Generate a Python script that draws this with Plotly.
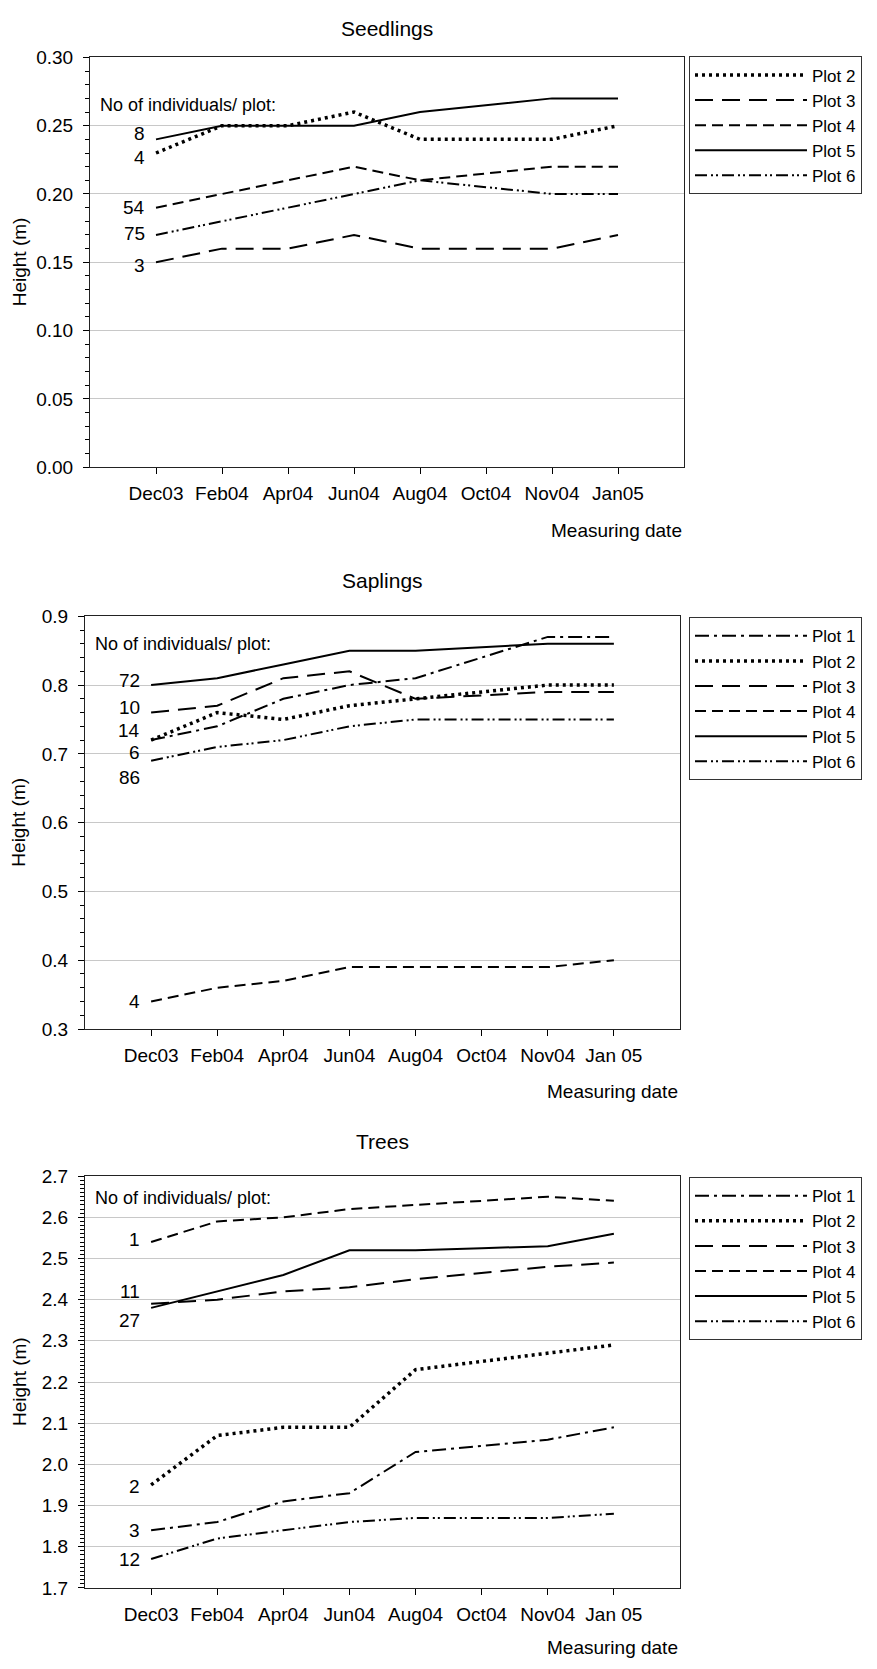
import plotly.graph_objects as go

W, H = 877, 1669

# ---------------- data ----------------
months_seedlings = ["Dec03", "Feb04", "Apr04", "Jun04", "Aug04", "Oct04", "Nov04", "Jan05"]
months_other = ["Dec03", "Feb04", "Apr04", "Jun04", "Aug04", "Oct04", "Nov04", "Jan 05"]

seed_plot2 = [0.23, 0.25, 0.25, 0.26, 0.24, 0.24, 0.24, 0.25]
seed_plot3 = [0.15, 0.16, 0.16, 0.17, 0.16, 0.16, 0.16, 0.17]
seed_plot4 = [0.19, 0.20, 0.21, 0.22, 0.21, 0.215, 0.22, 0.22]
seed_plot5 = [0.24, 0.25, 0.25, 0.25, 0.26, 0.265, 0.27, 0.27]
seed_plot6 = [0.17, 0.18, 0.19, 0.20, 0.21, 0.205, 0.20, 0.20]

sap_plot1 = [0.72, 0.74, 0.78, 0.80, 0.81, 0.84, 0.87, 0.87]
sap_plot2 = [0.72, 0.76, 0.75, 0.77, 0.78, 0.79, 0.80, 0.80]
sap_plot3 = [0.76, 0.77, 0.81, 0.82, 0.78, 0.785, 0.79, 0.79]
sap_plot4 = [0.34, 0.36, 0.37, 0.39, 0.39, 0.39, 0.39, 0.40]
sap_plot5 = [0.80, 0.81, 0.83, 0.85, 0.85, 0.855, 0.86, 0.86]
sap_plot6 = [0.69, 0.71, 0.72, 0.74, 0.75, 0.75, 0.75, 0.75]

tree_plot1 = [1.84, 1.86, 1.91, 1.93, 2.03, 2.045, 2.06, 2.09]
tree_plot2 = [1.95, 2.07, 2.09, 2.09, 2.23, 2.25, 2.27, 2.29]
tree_plot3 = [2.39, 2.40, 2.42, 2.43, 2.45, 2.465, 2.48, 2.49]
tree_plot4 = [2.54, 2.59, 2.60, 2.62, 2.63, 2.64, 2.65, 2.64]
tree_plot5 = [2.38, 2.42, 2.46, 2.52, 2.52, 2.525, 2.53, 2.56]
tree_plot6 = [1.77, 1.82, 1.84, 1.86, 1.87, 1.87, 1.87, 1.88]

# number of individuals per plot (text labels beside first point)
seed_counts = ["8", "4", "54", "75", "3"]
sap_counts = ["72", "10", "14", "6", "86", "4"]
tree_counts = ["1", "11", "27", "2", "3", "12"]

# ---------------- styles / layout positions ----------------
FONT = "Liberation Sans, Arial, Helvetica, sans-serif"
STYLE = {
    "Plot 1": dict(dash="14px,5px,3px,5px", width=2),
    "Plot 2": dict(dash="3px,4px", width=3.5),
    "Plot 3": dict(dash="18px,9px", width=2),
    "Plot 4": dict(dash="11px,6px", width=2),
    "Plot 5": dict(dash="solid", width=2),
    "Plot 6": dict(dash="12px,4px,2px,3px,2px,4px", width=2),
}

def px_x(p):
    return p / W

def px_y(p):
    return 1 - p / H

panels = [
    dict(title="Seedlings", months=months_seedlings,
         series={"Plot 2": seed_plot2, "Plot 3": seed_plot3, "Plot 4": seed_plot4,
                 "Plot 5": seed_plot5, "Plot 6": seed_plot6},
         counts=seed_counts, count_y=[0.244, 0.227, 0.19, 0.171, 0.148], note_y=0.265,
         x0=90, x1=684, ytop=48, ybot=463, yrange=[0, 0.30], dtick=0.05, minor=0.01,
         fmt=".2f", title_y=19, date_y=527, legend_top=47),
    dict(title="Saplings", months=months_other,
         series={"Plot 1": sap_plot1, "Plot 2": sap_plot2, "Plot 3": sap_plot3,
                 "Plot 4": sap_plot4, "Plot 5": sap_plot5, "Plot 6": sap_plot6},
         counts=sap_counts, count_y=[0.807, 0.767, 0.734, 0.702, 0.666, 0.34], note_y=0.86,
         x0=85, x1=680, ytop=614, ybot=1032, yrange=[0.3, 0.9], dtick=0.1, minor=0.02,
         fmt=".1f", title_y=578, date_y=1095, legend_top=615),
    dict(title="Trees", months=months_other,
         series={"Plot 1": tree_plot1, "Plot 2": tree_plot2, "Plot 3": tree_plot3,
                 "Plot 4": tree_plot4, "Plot 5": tree_plot5, "Plot 6": tree_plot6},
         counts=tree_counts, count_y=[2.545, 2.42, 2.35, 1.946, 1.84, 1.77], note_y=2.647,
         x0=85, x1=680, ytop=1181, ybot=1598, yrange=[1.7, 2.7], dtick=0.1, minor=0.01,
         fmt=".1f", title_y=1146, date_y=1658, legend_top=1182),
]

fig = go.Figure()
annotations = []
layout_axes = {}

for i, p in enumerate(panels):
    k = "" if i == 0 else str(i + 1)
    xref, yref = "x" + k, "y" + k
    legend_name = "legend" + k
    for name, vals in p["series"].items():
        st = STYLE[name]
        fig.add_trace(go.Scatter(
            x=list(range(len(p["months"]))), y=vals, mode="lines", name=name,
            line=dict(color="black", width=st["width"], dash=st["dash"]),
            xaxis=xref, yaxis=yref, legend=legend_name, showlegend=True,
            hoverinfo="skip"))

    layout_axes["xaxis" + k] = dict(
        domain=[px_x(p["x0"]), px_x(p["x1"])], anchor=yref, range=[-1, 8],
        tickmode="array", tickvals=list(range(len(p["months"]))), ticktext=p["months"],
        ticks="outside", ticklen=6, tickcolor="black", showgrid=False, zeroline=False,
        showline=True, linecolor="#222", linewidth=1, mirror=True,
        ticklabelstandoff=3,
        tickfont=dict(family=FONT, size=19, color="black"))
    layout_axes["yaxis" + k] = dict(
        domain=[px_y(p["ybot"]), px_y(p["ytop"])], anchor=xref, range=p["yrange"],
        dtick=p["dtick"], tick0=p["yrange"][0], tickformat=p["fmt"],
        ticks="outside", ticklen=6, tickcolor="black",
        minor=dict(dtick=p["minor"], ticks="outside", ticklen=4, tickcolor="black", showgrid=False),
        showgrid=True, gridcolor="#c8c8c8", gridwidth=1, zeroline=False,
        showline=True, linecolor="#222", linewidth=1, mirror=True,
        ticklabelstandoff=6,
        tickfont=dict(family=FONT, size=19, color="black"))

    layout_axes[legend_name] = dict(
        x=px_x(689), xanchor="left", y=px_y(p["legend_top"]), yanchor="top",
        bgcolor="white", bordercolor="#333", borderwidth=1,
        font=dict(family=FONT, size=17, color="black"),
        itemwidth=112, traceorder="normal")

    # panel title
    annotations.append(dict(
        text=p["title"], xref="paper", yref="paper",
        x=px_x((p["x0"] + p["x1"]) / 2), y=px_y(p["title_y"]),
        xanchor="center", yanchor="middle", showarrow=False,
        font=dict(family=FONT, size=21, color="black")))
    # y axis title
    annotations.append(dict(
        text="Height (m)", xref="paper", yref="paper", textangle=-90,
        x=px_x(19), y=px_y((p["ytop"] + p["ybot"]) / 2),
        xanchor="center", yanchor="middle", showarrow=False,
        font=dict(family=FONT, size=19, color="black")))
    # x axis title
    annotations.append(dict(
        text="Measuring date", xref="paper", yref="paper",
        x=px_x(p["x1"]), y=px_y(p["date_y"]),
        xanchor="right", yanchor="middle", showarrow=False,
        font=dict(family=FONT, size=19, color="black")))
    # note
    annotations.append(dict(
        text="No of individuals/ plot:", xref=xref, yref=yref,
        x=-1, y=p["note_y"], xanchor="left", yanchor="middle", xshift=8,
        showarrow=False, font=dict(family=FONT, size=18, color="black")))
    # counts
    for txt, yy in zip(p["counts"], p["count_y"]):
        annotations.append(dict(
            text=txt, xref=xref, yref=yref, x=0, y=yy,
            xanchor="right", yanchor="middle", xshift=-9,
            showarrow=False, font=dict(family=FONT, size=19, color="black")))

fig.update_layout(
    width=W, height=H, margin=dict(l=0, r=0, t=0, b=0),
    paper_bgcolor="white", plot_bgcolor="white",
    annotations=annotations, showlegend=True,
    font=dict(family=FONT, color="black"),
    **layout_axes)

fig.write_html("out.html")
